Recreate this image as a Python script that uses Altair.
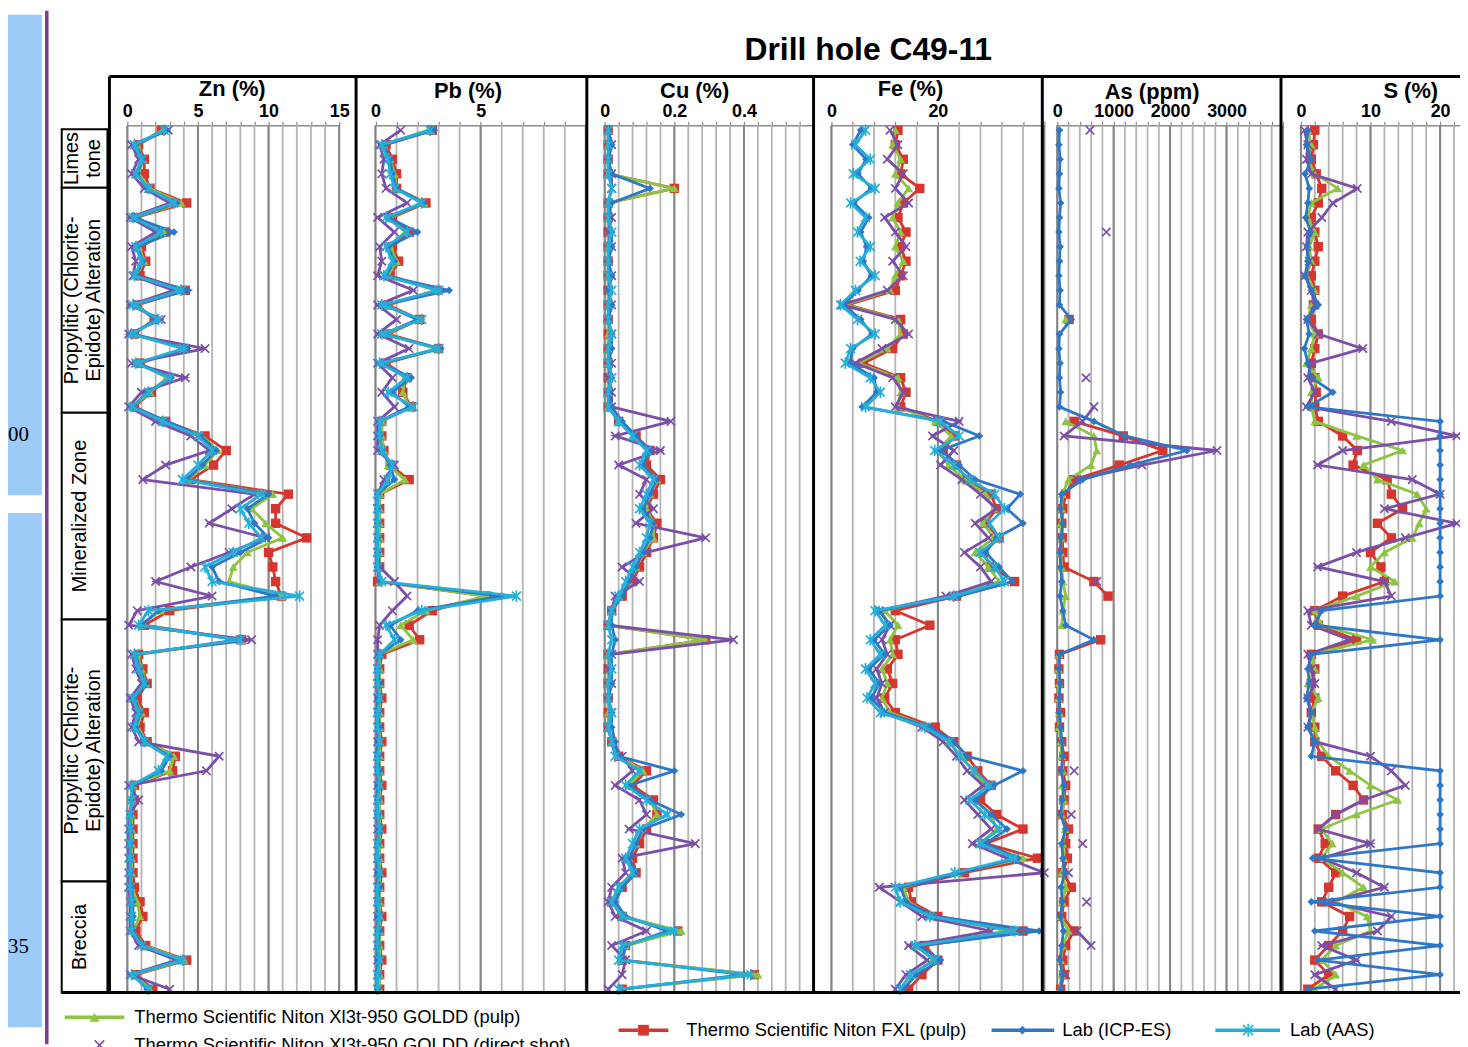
import altair as alt
import pandas as pd

# ----------------------------------------------------------------- data
# depth position = sample number down the hole (no depth scale is printed)
ROWS = list(range(60))

SERIES_NAMES = {
    "xl3p": "Thermo Scientific Niton Xl3t-950 GOLDD (pulp)",
    "xl3d": "Thermo Scientific Niton Xl3t-950 GOLDD (direct shot)",
    "fxl": "Thermo Scientific Niton FXL (pulp)",
    "icp": "Lab (ICP-ES)",
    "aas": "Lab (AAS)",
}

ZN_AAS = [2.6,0.5,1.0,0.6,1.5,3.3,0.4,2.4,0.6,1.0, 0.5,3.8,0.4,2.2,0.3,4.0,0.6,3.0,1.5,0.3,
          2.5,5.0,6.0,5.0,3.9,9.5,8.0,8.6,9.5,7.5, 5.5,6.0,12.2,1.5,0.8,8.0,0.5,0.8,1.2,0.4,
          0.8,0.5,1.2,2.8,2.2,0.3,0.3,0.2,0.2,0.2, 0.2,0.2,0.2,0.3,0.3,0.3,1.0,3.9,0.3,1.5]
ZN_ICP = [2.8,0.6,1.1,0.7,1.4,3.5,0.5,3.3,0.7,1.1, 0.6,4.3,0.5,2.0,0.4,4.2,0.7,3.1,1.4,0.4,
          2.8,5.2,6.3,5.3,4.2,10.0,8.5,9.0,10.0,8.0, 6.0,6.5,10.5,2.2,1.0,7.8,0.6,0.9,1.3,0.5,
          0.9,0.6,1.3,3.0,2.4,0.4,0.3,0.2,0.2,0.2, 0.2,0.2,0.3,0.4,0.4,0.4,1.1,3.7,0.4,1.4]
ZN_XL3P = [2.5,0.7,1.1,0.8,1.6,3.8,0.5,2.6,0.8,1.2, 0.6,3.6,0.6,2.0,0.4,4.0,0.8,2.8,1.6,0.4,
           2.6,5.3,6.4,5.5,4.3,10.3,8.8,9.8,11.0,8.5, 7.5,7.2,11.0,2.3,1.0,8.1,0.7,1.0,1.3,0.5,
           1.0,0.7,1.4,3.3,3.0,0.4,0.4,0.3,0.3,0.3, 0.3,0.3,0.3,0.7,0.9,0.4,1.2,4.0,0.5,1.6]
ZN_FXL = [2.4,0.8,1.2,1.2,1.6,4.2,0.6,2.7,1.0,1.3, 0.9,4.1,0.7,1.9,0.5,4.1,0.9,2.9,1.7,0.5,
          2.7,5.5,7.0,6.1,4.5,11.4,10.5,10.5,12.7,10.0, 10.3,10.5,10.9,3.0,1.2,8.1,0.8,1.1,1.4,0.7,
          1.2,0.9,1.4,3.4,3.2,0.5,0.5,0.4,0.4,0.4, 0.4,0.4,0.5,0.9,1.1,0.6,1.3,4.2,0.6,1.8]
ZN_XL3D = [2.9,0.3,0.8,0.3,1.2,3.0,0.2,2.0,0.3,0.6, 0.4,3.3,0.2,2.4,0.1,5.5,0.3,4.1,1.0,0.1,
           2.0,4.5,5.8,2.7,1.1,9.0,7.4,5.8,9.8,7.2, 4.5,2.0,6.0,0.7,0.1,8.8,0.3,0.6,1.0,0.2,
           0.6,0.3,0.8,6.5,5.6,0.1,0.8,0.2,0.1,0.1, 0.1,0.1,0.1,0.2,0.2,0.2,0.8,3.5,0.2,3.0]

PB_AAS = [2.6,0.3,0.6,0.7,0.9,2.2,0.5,1.5,0.5,0.8, 0.4,3.0,0.3,2.2,0.3,3.0,0.2,1.5,0.6,1.8,
          0.2,0.2,0.3,0.8,0.6,0.1,0.1,0.1,0.1,0.1, 0.1,0.3,6.7,2.2,0.5,0.9,0.2,0.1,0.1,0.2,
          0.1,0.1,0.2,0.1,0.1,0.2,0.1,0.1,0.2,0.1, 0.1,0.2,0.1,0.1,0.2,0.1,0.1,0.2,0.1,0.1]
PB_ICP = [2.8,0.4,0.7,0.8,1.0,2.3,0.6,2.0,0.6,0.9, 0.5,3.5,0.4,2.0,0.4,3.1,0.3,1.7,0.8,1.6,
          0.2,0.2,0.3,0.7,0.9,0.1,0.1,0.1,0.1,0.1, 0.1,0.2,6.0,2.0,0.7,1.2,0.2,0.1,0.2,0.1,
          0.1,0.2,0.1,0.1,0.2,0.1,0.1,0.1,0.2,0.1, 0.1,0.1,0.2,0.1,0.1,0.2,0.1,0.1,0.1,0.1]
PB_XL3P = [2.5,0.4,0.7,0.9,1.0,2.3,0.7,1.4,0.7,1.0, 0.6,2.9,0.5,2.0,0.5,2.9,0.4,1.4,1.3,1.6,
           0.3,0.3,0.4,0.6,1.4,0.2,0.2,0.2,0.2,0.2, 0.2,0.2,5.3,2.4,1.2,1.8,0.2,0.2,0.2,0.2,
           0.2,0.2,0.2,0.2,0.2,0.2,0.2,0.2,0.2,0.2, 0.2,0.2,0.2,0.2,0.2,0.2,0.2,0.2,0.2,0.2]
PB_FXL = [2.7,0.5,0.8,1.0,1.0,2.4,0.8,1.6,0.8,1.1, 0.7,2.9,0.6,2.1,0.6,3.0,0.5,1.5,1.3,1.7,
          0.3,0.3,0.4,0.7,1.6,0.2,0.2,0.2,0.2,0.2, 0.2,0.1,5.3,2.7,1.6,2.1,0.3,0.2,0.2,0.3,
          0.2,0.2,0.3,0.2,0.2,0.3,0.2,0.2,0.3,0.2, 0.2,0.3,0.2,0.2,0.3,0.2,0.2,0.3,0.2,0.2]
PB_XL3D = [1.2,0.2,0.4,0.3,0.5,1.5,0.1,0.9,0.2,0.3, 0.1,1.8,0.1,1.0,0.1,1.6,0.1,0.8,0.3,0.9,
           0.1,0.1,0.1,0.9,0.4,0.1,0.1,0.1,0.1,0.1, 0.2,0.9,1.5,0.8,0.2,0.1,0.1,0.1,0.1,0.1,
           0.1,0.1,0.1,0.1,0.1,0.1,0.1,0.1,0.1,0.1, 0.1,0.1,0.1,0.1,0.1,0.1,0.1,0.1,0.1,0.1]

CU_AAS = [0.01,0.01,0.01,0.01,0.02,0.01,0.01,0.02,0.01,0.01, 0.01,0.02,0.01,0.01,0.02,0.01,0.01,0.02,0.01,0.01,
          0.04,0.08,0.12,0.10,0.14,0.12,0.10,0.13,0.12,0.10, 0.08,0.06,0.04,0.02,0.01,0.02,0.01,0.02,0.01,0.01,
          0.02,0.01,0.02,0.03,0.10,0.06,0.12,0.18,0.10,0.08, 0.06,0.08,0.04,0.02,0.05,0.20,0.05,0.04,0.42,0.04]
CU_ICP = [0.01,0.02,0.01,0.02,0.13,0.02,0.01,0.02,0.02,0.01, 0.02,0.01,0.02,0.01,0.02,0.02,0.01,0.02,0.01,0.02,
          0.05,0.09,0.13,0.11,0.15,0.13,0.11,0.14,0.13,0.11, 0.09,0.07,0.05,0.02,0.02,0.03,0.02,0.02,0.02,0.01,
          0.02,0.02,0.03,0.04,0.20,0.07,0.13,0.22,0.11,0.09, 0.07,0.09,0.05,0.03,0.06,0.18,0.06,0.05,0.40,0.05]
CU_XL3P = [0.01,0.01,0.01,0.01,0.20,0.01,0.01,0.01,0.01,0.01, 0.01,0.01,0.01,0.01,0.01,0.01,0.01,0.01,0.01,0.01,
           0.04,0.08,0.13,0.11,0.15,0.13,0.12,0.14,0.14,0.11, 0.09,0.07,0.04,0.02,0.01,0.29,0.01,0.01,0.01,0.01,
           0.01,0.01,0.02,0.04,0.11,0.07,0.13,0.15,0.11,0.09, 0.07,0.08,0.04,0.02,0.05,0.22,0.06,0.05,0.44,0.05]
CU_FXL = [0.01,0.01,0.01,0.01,0.20,0.01,0.01,0.01,0.01,0.01, 0.01,0.01,0.01,0.01,0.01,0.01,0.01,0.01,0.01,0.01,
          0.04,0.09,0.13,0.12,0.16,0.14,0.12,0.15,0.14,0.12, 0.10,0.08,0.05,0.02,0.01,0.29,0.01,0.01,0.01,0.01,
          0.01,0.01,0.02,0.04,0.12,0.08,0.14,0.15,0.12,0.10, 0.08,0.09,0.05,0.02,0.05,0.21,0.06,0.05,0.43,0.05]
CU_XL3D = [0.01,0.02,0.01,0.02,0.02,0.01,0.02,0.01,0.02,0.01, 0.02,0.01,0.02,0.01,0.02,0.01,0.02,0.01,0.02,0.02,
           0.19,0.03,0.16,0.04,0.12,0.10,0.14,0.09,0.29,0.12, 0.05,0.10,0.03,0.02,0.01,0.37,0.02,0.01,0.02,0.01,
           0.02,0.01,0.02,0.05,0.08,0.03,0.10,0.12,0.07,0.26, 0.05,0.06,0.02,0.01,0.03,0.12,0.02,0.06,0.05,0.01]

FE_AAS = [6.4,4.5,7.3,4.1,8.2,3.6,6.4,4.9,7.3,5.4, 8.2,4.5,1.7,4.9,8.2,3.6,2.6,7.3,9.2,6.4,
          20.4,24.0,19.4,23.0,26.0,30.7,32.5,29.7,31.6,27.9, 30.7,32.5,23.0,8.2,10.1,7.3,9.2,6.4,8.2,6.7,
          9.2,17.6,22.2,24.1,26.9,29.7,26.0,28.8,31.6,27.9, 34.4,23.2,12.0,12.9,18.5,34.4,15.7,19.4,14.8,12.9]
FE_ICP = [5.5,4.0,6.5,5.0,7.5,4.2,7.0,5.5,6.6,6.0, 7.5,5.0,2.2,5.5,7.6,4.0,3.5,8.0,8.5,5.8,
          21.0,27.8,20.5,24.0,27.0,35.5,33.0,36.0,31.0,29.0, 31.5,34.0,24.0,9.0,11.0,8.0,10.0,7.0,9.0,7.5,
          10.0,18.5,23.0,25.5,36.0,30.5,27.0,30.0,33.0,29.0, 35.0,24.5,13.0,14.0,19.5,39.0,16.5,20.5,16.0,13.5]
FE_XL3P = [12.0,11.5,13.0,12.0,14.5,12.5,11.5,13.0,12.0,13.5, 12.0,11.0,2.5,12.5,13.0,10.5,5.0,12.5,13.0,12.5,
           19.5,22.5,20.0,22.0,25.0,29.0,30.5,28.5,30.5,27.0, 29.5,31.5,22.0,10.0,12.5,11.0,11.5,9.5,10.5,9.5,
           11.0,18.5,22.0,24.5,26.5,29.0,27.0,30.0,31.0,28.0, 36.0,24.0,13.5,14.5,19.0,33.0,16.5,19.0,15.5,13.5]
FE_FXL = [12.5,12.0,13.5,13.0,16.6,13.5,12.5,14.0,13.0,14.0, 13.0,12.0,3.0,13.0,13.5,11.5,6.0,13.0,14.0,13.0,
          20.0,23.0,21.0,23.5,25.5,30.0,31.0,29.0,31.5,28.5, 30.0,34.4,23.5,12.0,18.5,12.0,12.5,10.5,11.5,10.0,
          12.0,19.5,23.0,25.5,27.5,30.0,28.0,31.0,36.0,29.0, 38.7,25.0,14.5,15.0,20.0,36.0,17.5,20.0,17.0,14.5]
FE_XL3D = [11.0,12.5,10.5,13.5,12.0,14.5,10.0,12.0,14.0,11.5, 13.5,10.5,2.0,12.0,14.5,9.5,4.5,11.5,13.5,12.0,
           24.0,19.0,23.0,20.5,24.5,28.0,31.0,27.0,29.5,25.0, 28.0,30.0,21.5,9.0,11.0,9.5,10.5,8.5,9.5,8.5,
           10.0,17.0,21.0,23.5,25.5,28.5,25.0,27.5,30.0,26.5, 33.0,40.0,9.0,13.0,17.0,30.0,14.5,18.0,14.0,12.0]

N = None
AS_ICP = [40,30,50,40,30,60,40,30,50,40, 30,50,40,250,40,30,50,40,60,40,
          650,1200,2300,1300,450,80,60,100,70,50, 60,80,50,100,150,650,40,30,50,40,
          30,60,80,100,70,120,90,60,150,80, 100,130,70,90,60,110,80,50,90,60]
AS_FXL = [N,N,N,N,N,N,N,N,N,N, N,N,N,210,N,N,N,N,N,N,
          300,1170,1870,1100,300,150,100,80,90,100, 120,650,900,N,N,770,40,30,40,30,
          60,40,80,120,100,150,120,90,200,150, 180,100,250,120,80,300,150,100,120,60]
AS_XL3P = [N,N,N,N,N,N,N,N,N,N, N,N,N,150,N,N,N,N,N,N,
           150,650,700,600,200,90,80,60,70,60, 80,100,150,100,80,N,30,20,30,20,
           40,30,60,80,100,90,120,80,140,100, 120,80,150,90,60,200,100,60,80,40]
AS_XL3D = [580,N,N,N,N,N,N,870,N,N, N,N,N,N,N,N,N,510,N,650,
           450,120,2830,1500,350,N,N,N,N,N, N,700,N,N,N,N,N,N,N,N,
           N,N,N,N,300,N,N,250,N,450, N,200,N,520,N,350,600,N,150,N]

S_ICP = [1.0,0.8,1.5,0.6,1.2,1.0,0.7,1.4,0.9,1.0, 0.6,1.5,2.5,0.8,1.2,0.5,1.0,1.5,4.6,1.0,
         20,20,20,20,20,20,20,20,20,20, 20,20,20,3.0,2.0,20,1.5,1.0,1.2,0.8,
         1.5,1.0,2.0,1.5,20,20,20,20,20,20, 1.7,20,20,1.5,20,2.0,20,2.5,20,1.0]
S_XL3P = [1.0,1.5,1.0,2.0,5.3,1.5,1.0,2.0,1.2,1.5, 0.8,2.0,1.5,1.0,2.0,1.5,0.8,2.5,1.5,1.5,
          2.0,8.0,14.6,9.0,11.0,16.7,18.0,17.0,16.0,12.0, 10.0,13.5,8.0,2.0,3.0,10.3,1.5,2.0,1.0,2.5,
          1.5,2.0,2.5,4.0,7.0,10.0,13.9,8.0,3.0,4.5, 3.0,6.0,9.0,5.0,9.5,10.0,5.0,3.0,5.0,2.0]
S_FXL = [2.0,1.8,1.5,2.2,3.0,2.5,1.5,2.0,2.5,2.0, 1.5,2.0,1.8,1.5,2.5,2.0,1.5,2.0,2.2,2.0,
         2.5,6.0,8.1,7.5,12.4,13.0,14.6,11.0,13.0,10.0, 11.5,12.0,6.0,2.0,2.5,8.0,1.5,2.0,1.5,2.0,
         1.5,2.0,2.0,3.0,5.0,7.5,9.0,5.0,2.5,3.5, 2.5,5.0,4.0,3.0,7.0,6.0,4.0,2.0,4.0,1.0]
S_XL3D = [0.5,1.0,0.8,1.5,8.1,4.6,3.0,1.0,0.8,1.2, 0.6,1.5,2.0,1.0,2.5,8.9,1.5,1.0,2.0,0.8,
          13.0,22.4,6.0,2.4,16.0,20.0,12.0,22.4,15.0,8.0, 2.4,12.0,13.0,1.0,1.5,7.0,1.0,1.5,2.0,1.0,
          1.5,1.0,2.0,10.0,13.0,15.0,9.0,5.0,2.5,10.0, 3.0,8.0,12.0,4.0,13.0,11.0,3.0,8.0,2.0,5.0]

LITHO_LINE1 = ["Limes", "Propylitic (Chlorite-", "Mineralized Zone", "Propylitic (Chlorite-", "Breccia"]
LITHO_LINE2 = ["tone", "Epidote) Alteration", "", "Epidote) Alteration", ""]
LITHO_TOP = [-0.07, 3.96, 19.4, 33.6, 51.6]
LITHO_BOT = [3.96, 19.4, 33.6, 51.6, 59.22]

ELEMENTS = [
    ("Zn (%)", {"fxl": ZN_FXL, "xl3p": ZN_XL3P, "xl3d": ZN_XL3D, "icp": ZN_ICP, "aas": ZN_AAS}),
    ("Pb (%)", {"fxl": PB_FXL, "xl3p": PB_XL3P, "xl3d": PB_XL3D, "icp": PB_ICP, "aas": PB_AAS}),
    ("Cu (%)", {"fxl": CU_FXL, "xl3p": CU_XL3P, "xl3d": CU_XL3D, "icp": CU_ICP, "aas": CU_AAS}),
    ("Fe (%)", {"fxl": FE_FXL, "xl3p": FE_XL3P, "xl3d": FE_XL3D, "icp": FE_ICP, "aas": FE_AAS}),
    ("As (ppm)", {"fxl": AS_FXL, "xl3p": AS_XL3P, "xl3d": AS_XL3D, "icp": AS_ICP}),
    ("S (%)", {"fxl": S_FXL, "xl3p": S_XL3P, "xl3d": S_XL3D, "icp": S_ICP}),
]

# ----------------------------------------------------------------- layout / style
Y_TOP, Y_BOT = -0.34, 59.22
YS = alt.Scale(domain=[Y_TOP, Y_BOT], range=[115, 987], zero=False, nice=False)

SANS = "Liberation Sans, Arial"

# tx = centre of the panel title (view px), ty = title offset above the axis line
PANEL_AXES = [
    dict(domain=[0, 15], rng=[120, 333], step=1, majors=[0, 5, 10, 15], labels=[0, 5, 10, 15], tx=225, ty=-37),
    dict(domain=[0, 10], rng=[369.5, 581], step=1, majors=[0, 5, 10], labels=[0, 5], tx=462, ty=-35),
    dict(domain=[0, 0.6], rng=[600, 810], step=0.04, majors=[0, 0.2, 0.4, 0.6], labels=[0, 0.2, 0.4], tx=690, ty=-35),
    dict(domain=[0, 40], rng=[828, 1042], step=4, majors=[0, 20, 40], labels=[0, 20], tx=907, ty=-37),
    dict(domain=[0, 4000], rng=[1055, 1282], step=200, majors=[0, 1000, 2000, 3000, 4000],
         labels=[0, 1000, 2000, 3000], tx=1150, ty=-34),
    dict(domain=[0, 30], rng=[1300, 1510], step=2, majors=[0, 10, 20, 30], labels=[0, 10, 20], tx=1410, ty=-35),
]

STYLE = {
    "fxl": dict(color="#D6362D", shape="square", filled=True, size=90),
    "xl3p": dict(color="#8DC441", shape="triangle-up", filled=True, size=80),
    "xl3d": dict(color="#7B4FA8", shape="M-1,-1L1,1M-1,1L1,-1", filled=False, size=70),
    "icp": dict(color="#2E77C6", shape="diamond", filled=True, size=60),
    "aas": dict(color="#26AFD8", shape="M-1,-1L1,1M-1,1L1,-1M0,-1.3L0,1.3", filled=False, size=80),
}
ORDER = ["fxl", "xl3p", "xl3d", "icp", "aas"]

ONE = pd.DataFrame({"_": [0]})


def series_frame(vals):
    rows, seg, gap = [], 0, False
    for d, v in zip(ROWS, vals):
        if v is None:
            gap = True
            continue
        if gap:
            seg += 1
            gap = False
        rows.append({"depth": d, "value": v, "seg": seg})
    return pd.DataFrame(rows)


def panel(title, data, ax):
    xs = alt.Scale(domain=ax["domain"], range=ax["rng"], zero=False, nice=False)
    n = int(round((ax["domain"][1] - ax["domain"][0]) / ax["step"]))
    minor = [round(ax["domain"][0] + i * ax["step"], 4) for i in range(n + 1)]
    lab = "[" + ",".join(str(v) for v in ax["labels"]) + "]"
    axis = alt.Axis(
        orient="top", offset=-115, values=minor, grid=False,
        labelExpr=f"indexof({lab}, datum.value) >= 0 ? format(datum.value, '~g') : ''",
        labelFlush=False, labelOverlap=False, labelFont=SANS, labelFontSize=18,
        labelFontWeight="bold", labelColor="black", labelPadding=1,
        domainColor="#8c8c8c", domainWidth=1.5, tickColor="#8c8c8c", tickSize=4, tickWidth=1.2,
        title=title, titleFont=SANS, titleFontSize=22, titleFontWeight="bold", titleColor="black",
        titleX=ax["tx"], titleY=ax["ty"], titleAlign="center", titleBaseline="middle",
    )
    out = [
        alt.Chart(pd.DataFrame({"v": minor})).mark_rule(color="#b4b4b4", strokeWidth=1.8).encode(
            x=alt.X("v:Q", scale=xs, axis=axis),
            y=alt.Y(datum=Y_TOP, scale=YS, axis=None), y2=alt.Y2(datum=Y_BOT)),
        alt.Chart(pd.DataFrame({"v": ax["majors"]})).mark_rule(color="#848484", strokeWidth=2).encode(
            x=alt.X("v:Q", scale=xs, axis=None),
            y=alt.Y(datum=Y_TOP, scale=YS, axis=None), y2=alt.Y2(datum=Y_BOT)),
    ]
    for key in ORDER:
        if key not in data:
            continue
        st = STYLE[key]
        df = series_frame(data[key])
        base = alt.Chart(df).encode(
            x=alt.X("value:Q", scale=xs, axis=None),
            y=alt.Y("depth:Q", scale=YS, axis=None),
        )
        out.append(base.mark_line(color=st["color"], strokeWidth=2.8).encode(
            detail="seg:N", order="depth:Q"))
        if st["filled"]:
            out.append(base.mark_point(shape=st["shape"], filled=True, size=st["size"],
                                       color=st["color"], opacity=1))
        else:
            out.append(base.mark_point(shape=st["shape"], filled=False, size=st["size"],
                                       color=st["color"], strokeWidth=1.7, opacity=1))
    return out


def vline(x, y1, y2, w=3, color="black"):
    return alt.Chart(ONE).mark_rule(color=color, strokeWidth=w).encode(
        x=alt.value(x), y=alt.value(y1), y2=alt.value(y2))


def hline(y, x1, x2, w=3, color="black"):
    return alt.Chart(ONE).mark_rule(color=color, strokeWidth=w).encode(
        y=alt.value(y), x=alt.value(x1), x2=alt.value(x2))


layers = []

# page background pieces visible in the screenshot
layers.append(alt.Chart(ONE).mark_rect(color="#9DCBF8").encode(
    x=alt.value(0), x2=alt.value(34), y=alt.value(4), y2=alt.value(487)))
layers.append(alt.Chart(ONE).mark_rect(color="#9DCBF8").encode(
    x=alt.value(0), x2=alt.value(34), y=alt.value(505), y2=alt.value(1022)))
layers.append(vline(39, 0, 1039, w=3.5, color="#7D3C8F"))
layers.append(alt.Chart(ONE).mark_text(text="00", font="Liberation Serif", fontSize=21,
                                       align="left", baseline="middle", color="black").encode(
    x=alt.value(0), y=alt.value(427)))
layers.append(alt.Chart(ONE).mark_text(text="35", font="Liberation Serif", fontSize=21,
                                       align="left", baseline="middle", color="black").encode(
    x=alt.value(0), y=alt.value(941)))

# lithology column
litho = pd.DataFrame({"l1": LITHO_LINE1, "l2": LITHO_LINE2, "top": LITHO_TOP, "bot": LITHO_BOT})
layers.append(alt.Chart(litho).mark_rect(fill="white", stroke="black", strokeWidth=2).encode(
    x=alt.value(54), x2=alt.value(100),
    y=alt.Y("top:Q", scale=YS, axis=None), y2="bot:Q"))
ltext = dict(angle=270, font=SANS, fontSize=20, align="center", baseline="middle", color="black")
lbase = alt.Chart(litho).transform_calculate(mid="(datum.top + datum.bot) / 2")
layers.append(lbase.transform_filter("datum.l2 != ''").mark_text(**ltext).encode(
    x=alt.value(64), y=alt.Y("mid:Q", scale=YS, axis=None), text="l1:N"))
layers.append(lbase.transform_filter("datum.l2 != ''").mark_text(**ltext).encode(
    x=alt.value(87), y=alt.Y("mid:Q", scale=YS, axis=None), text="l2:N"))
layers.append(lbase.transform_filter("datum.l2 == ''").mark_text(**ltext).encode(
    x=alt.value(72), y=alt.Y("mid:Q", scale=YS, axis=None), text="l1:N"))

# element panels (all flattened into the single layer)
for (title, data), ax in zip(ELEMENTS, PANEL_AXES):
    layers.extend(panel(title, data, ax))

# frame
layers.append(hline(66, 102, 1460))
layers.append(hline(987, 54, 1460))
for x in [102, 350, 582, 810, 1040, 1280]:
    layers.append(vline(x, 66, 987))

# title
layers.append(alt.Chart(ONE).mark_text(text="Drill hole C49-11", font=SANS, fontSize=32,
                                       fontWeight="bold", align="center", baseline="middle",
                                       color="black").encode(x=alt.value(865), y=alt.value(39)))

# legend (manual, to follow the original arrangement)
LEG = [
    ("xl3p", 57, 117, 87, 1012, 127),
    ("xl3d", None, None, 92, 1040, 127),
    ("fxl", 614, 664, 639, 1025, 682),
    ("icp", 989, 1052, 1020, 1025, 1060),
    ("aas", 1214, 1279, 1247, 1025, 1289),
]
for key, lx1, lx2, mx, ly, tx in LEG:
    st = STYLE[key]
    if lx1 is not None:
        layers.append(hline(ly, lx1, lx2, w=3.5, color=st["color"]))
    layers.append(alt.Chart(ONE).mark_point(shape=st["shape"], filled=st["filled"], size=st["size"] * 1.3,
                                            color=st["color"], opacity=1,
                                            strokeWidth=1.6).encode(x=alt.value(mx), y=alt.value(ly)))
    layers.append(alt.Chart(ONE).mark_text(text=SERIES_NAMES[key], font=SANS, fontSize=18.5,
                                           align="left", baseline="middle", color="black").encode(
        x=alt.value(tx), y=alt.value(ly)))

chart = alt.layer(*layers).resolve_scale(x="independent").properties(
    width=1460, height=1039, padding=0,
    autosize=alt.AutoSizeParams(type="none"),
).configure(background="white", view=alt.ViewConfig(stroke=None))

chart.save("out.html", embed_options={"renderer": "svg", "actions": False})
